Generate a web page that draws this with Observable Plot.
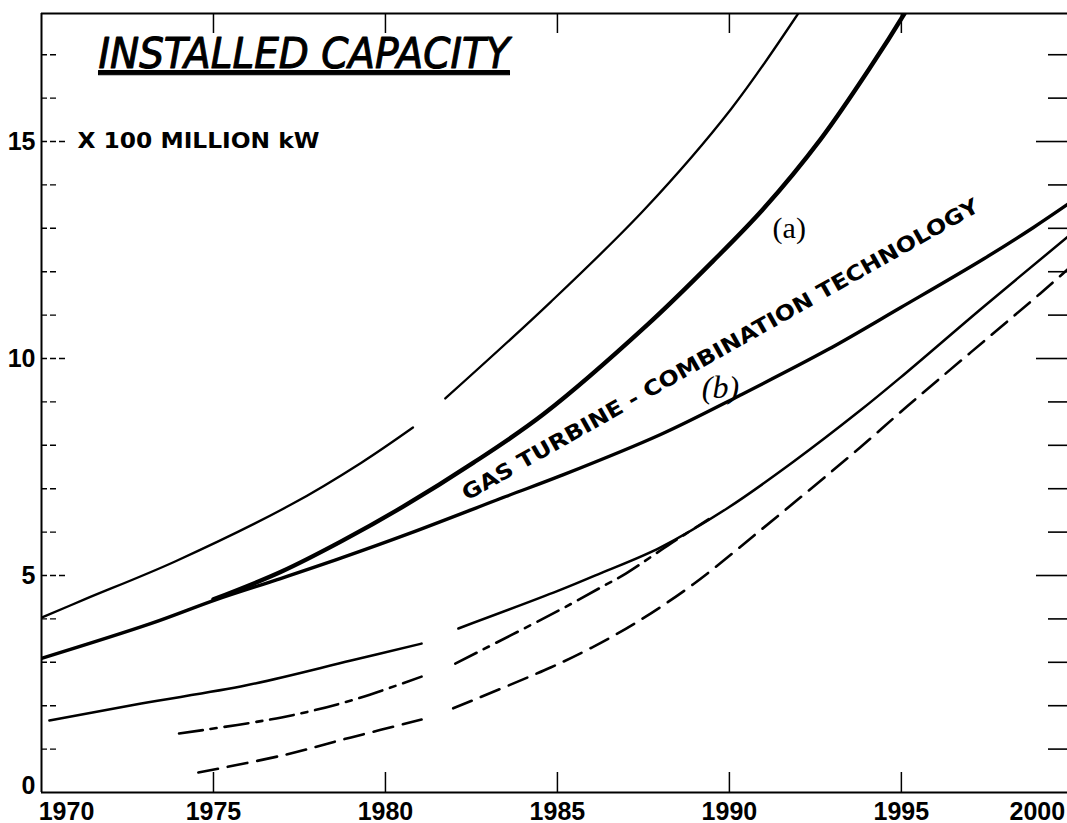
<!DOCTYPE html>
<html><head><meta charset="utf-8">
<script src="https://cdn.jsdelivr.net/npm/d3@7"></script>
<script src="https://cdn.jsdelivr.net/npm/@observablehq/plot@0.6"></script>
<style>
body{margin:0;background:#fff;overflow:hidden}
</style>
</head><body><div id="chart"></div>
<script>
// ---- data ----
const titleText = "INSTALLED CAPACITY";
const unitText = "X 100 MILLION kW";
const gasText = "GAS TURBINE - COMBINATION TECHNOLOGY";

// upper thin solid curve (broken between 1981 and 1982)
const years1 = [1970, 1971.25, 1973.9, 1977.27, 1979.3, 1980.8, NaN, 1981.74, 1984.8, 1987.55, 1990.05, 1992.0, 1992.6];
const cap1   = [4.03, 4.45, 5.33, 6.64, 7.6, 8.41, NaN, 9.08, 11.3, 13.45, 15.75, 17.95, 18.7];
// thick curve (a)
const yearsA = [1975.0, 1976.95, 1978.7, 1980.5, 1982.56, 1984.6, 1987.62, 1989.53, 1990.99, 1992.65, 1994.13, 1995.09, 1995.6];
const capA   = [4.45, 5.08, 5.78, 6.58, 7.6, 8.72, 10.78, 12.25, 13.45, 15.05, 16.75, 17.95, 18.65];
// curve (b) gas turbine - combination technology
const yearsB = [1970, 1973.17, 1975.1, 1976.95, 1978.7, 1980.7, 1983.5, 1985.1, 1988.0, 1990.3, 1992.85, 1994.97, 1997.4, 1998.84, 1999.83];
const capB   = [3.09, 3.89, 4.45, 4.93, 5.4, 5.97, 6.82, 7.3, 8.25, 9.15, 10.2, 11.17, 12.3, 13.02, 13.55];
// lower thin solid curve (broken)
const years4 = [1970.23, 1972.9, 1975.96, 1979.0, 1981.05, NaN, 1982.12, 1985.03, 1986.25, 1988.0, 1989.94, 1991.86, 1993.8, 1994.97, 1997.4, 1999.83];
const cap4   = [1.66, 2.05, 2.47, 3.04, 3.43, NaN, 3.78, 4.65, 5.05, 5.65, 6.55, 7.62, 8.8, 9.56, 11.2, 12.8];
// dash-dot curve (broken, joins the lower solid curve)
const years5 = [1974.0, 1976.98, 1979.0, 1981.05, NaN, 1982.03, 1985.03, 1986.25, 1987.0, 1988.3, 1989.4];
const cap5   = [1.36, 1.73, 2.12, 2.67, NaN, 2.97, 4.19, 4.72, 5.05, 5.74, 6.3];
// dashed curve (broken)
const years6 = [1974.56, 1976.98, 1979.0, 1981.05, NaN, 1981.97, 1984.8, 1986.0, 1987.3, 1988.95, 1990.9, 1993.8, 1995.17, 1999.04, 1999.83];
const cap6   = [0.46, 0.85, 1.27, 1.68, NaN, 1.94, 2.88, 3.34, 3.92, 4.8, 6.04, 7.95, 8.9, 11.5, 12.05];

// ticks and tick labels
const xTickYears = [1975, 1980, 1985, 1990, 1995];
const xLabelsMid = [1975, 1980, 1985, 1990, 1995];
const xLabelFirst = [1970];
const xLabelLast = [2000];
const yMinor = [1, 2, 3, 4, 6, 7, 8, 9, 11, 12, 13, 14, 16, 17];
const yMajor = [5, 10, 15];
const yLabels = [5, 10, 15];
const yLabelZero = [0];
const xDomain = [1970, 1999.83];
const yDomain = [0, 17.95];

// annotations in data units
const noteA = [{label: "(a)", year: 1991.74, v: 13.0}];
const noteB = [{label: "(b)", year: 1989.74, v: 9.33}];
const noteGas = [{label: gasText, year: 1989.74, v: 10.2}];
const noteUnit = [{label: unitText, v: 15}];

// ---- chart ----
const W = 1067, H = 823, ML = 41, MR = 0, MT = 13, MB = 31;
const FW = W - ML - MR, FH = H - MT - MB;
const ink = "#000";
const numFont = "Liberation Sans, Arial, sans-serif";

const chart = Plot.plot({
  width: W, height: H,
  marginLeft: ML, marginRight: MR, marginTop: MT, marginBottom: MB,
  x: {domain: xDomain, axis: null},
  y: {domain: yDomain, axis: null},
  style: {background: "#fff", color: ink, fontFamily: numFont},
  marks: [
    // frame lines
    Plot.ruleX(xLabelFirst, {x: d => d, stroke: ink, strokeWidth: 2}),
    Plot.ruleY(yDomain, {y: d => d, stroke: ink, strokeWidth: 2}),
    // left ticks
    Plot.ruleY(yMinor, {y: d => d, insetRight: FW - 17, stroke: ink, strokeWidth: 1.4, strokeDasharray: "6,3"}),
    Plot.ruleY(yMajor, {y: d => d, insetRight: FW - 27, stroke: ink, strokeWidth: 1.4, strokeDasharray: "6,3"}),
    // right ticks
    Plot.ruleY(yMinor, {y: d => d, insetLeft: FW - 19, stroke: ink, strokeWidth: 1.6}),
    Plot.ruleY(yMajor, {y: d => d, insetLeft: FW - 31, stroke: ink, strokeWidth: 1.6}),
    // top and bottom ticks
    Plot.ruleX(xTickYears, {x: d => d, insetBottom: FH - 20, stroke: ink, strokeWidth: 1.5}),
    Plot.ruleX(xTickYears, {x: d => d, insetTop: FH - 20, stroke: ink, strokeWidth: 1.5}),
    // curves
    Plot.line(cap1, {x: years1, y: cap1, curve: "catmull-rom", stroke: ink, strokeWidth: 2.3, clip: true}),
    Plot.line(capA, {x: yearsA, y: capA, curve: "catmull-rom", stroke: ink, strokeWidth: 4.4, clip: true}),
    Plot.line(capB, {x: yearsB, y: capB, curve: "catmull-rom", stroke: ink, strokeWidth: 3.4, clip: true}),
    Plot.line(cap4, {x: years4, y: cap4, curve: "catmull-rom", stroke: ink, strokeWidth: 2.5, clip: true}),
    Plot.line(cap5, {x: years5, y: cap5, curve: "catmull-rom", stroke: ink, strokeWidth: 2.6, strokeDasharray: "24,8,6,8", clip: true}),
    Plot.line(cap6, {x: years6, y: cap6, curve: "catmull-rom", stroke: ink, strokeWidth: 2.6, strokeDasharray: "20,10", clip: true}),
    // tick labels
    Plot.text(xLabelsMid, {x: d => d, text: d => String(d), frameAnchor: "bottom", dy: 19, lineAnchor: "middle", fontSize: 25, fontWeight: "bold", fill: ink}),
    Plot.text(xLabelFirst, {x: d => d, text: d => String(d), frameAnchor: "bottom", dy: 19, dx: 25, lineAnchor: "middle", fontSize: 25, fontWeight: "bold", fill: ink}),
    Plot.text(xLabelLast, {x: d => d, text: d => String(d), frameAnchor: "bottom", dy: 19, dx: -36, lineAnchor: "middle", fontSize: 25, fontWeight: "bold", fill: ink}),
    Plot.text(yLabels, {y: d => d, text: d => String(d), frameAnchor: "left", dx: -6, textAnchor: "end", lineAnchor: "middle", fontSize: 25, fontWeight: "bold", fill: ink}),
    Plot.text(yLabelZero, {y: d => d, text: d => String(d), frameAnchor: "left", dx: -6, dy: -7, textAnchor: "end", lineAnchor: "middle", fontSize: 25, fontWeight: "bold", fill: ink}),
    // title and unit
    Plot.text([titleText], {text: d => d, frameAnchor: "top-left", dx: 57, dy: 54, textAnchor: "start", lineAnchor: "bottom", fontSize: 42, fontStyle: "italic", fontFamily: "DejaVu Sans, sans-serif", fill: ink, stroke: ink, strokeWidth: 1.1}),
    Plot.text(noteUnit, {y: "v", text: "label", frameAnchor: "left", dx: 36, textAnchor: "start", lineAnchor: "middle", fontSize: 21, fontWeight: "bold", fontFamily: "DejaVu Sans, sans-serif", fill: ink}),
    // curve labels
    Plot.text(noteGas, {x: "year", y: "v", text: "label", rotate: -29.5, fontSize: 21, fontWeight: "bold", fontFamily: "DejaVu Sans, sans-serif", fill: ink}),
    Plot.text(noteA, {x: "year", y: "v", text: "label", fontSize: 30, fontFamily: "Liberation Serif, serif", fill: ink}),
    Plot.text(noteB, {x: "year", y: "v", text: "label", fontSize: 32, fontStyle: "italic", fontFamily: "Liberation Serif, serif", fill: ink})
  ]
});

// fit the lettering to the original's extents
const svg = d3.select(chart);
svg.selectAll("text").filter(function() { return this.textContent === titleText; })
  .attr("textLength", 411).attr("lengthAdjust", "spacingAndGlyphs")
  .style("text-decoration", "underline").style("text-decoration-thickness", "3px").style("text-underline-offset", "9px");
svg.selectAll("text").filter(function() { return this.textContent === unitText; })
  .attr("textLength", 242).attr("lengthAdjust", "spacingAndGlyphs");
svg.selectAll("text").filter(function() { return this.textContent === gasText; })
  .attr("textLength", 590).attr("lengthAdjust", "spacingAndGlyphs");

document.getElementById("chart").append(chart);
</script></body></html>
